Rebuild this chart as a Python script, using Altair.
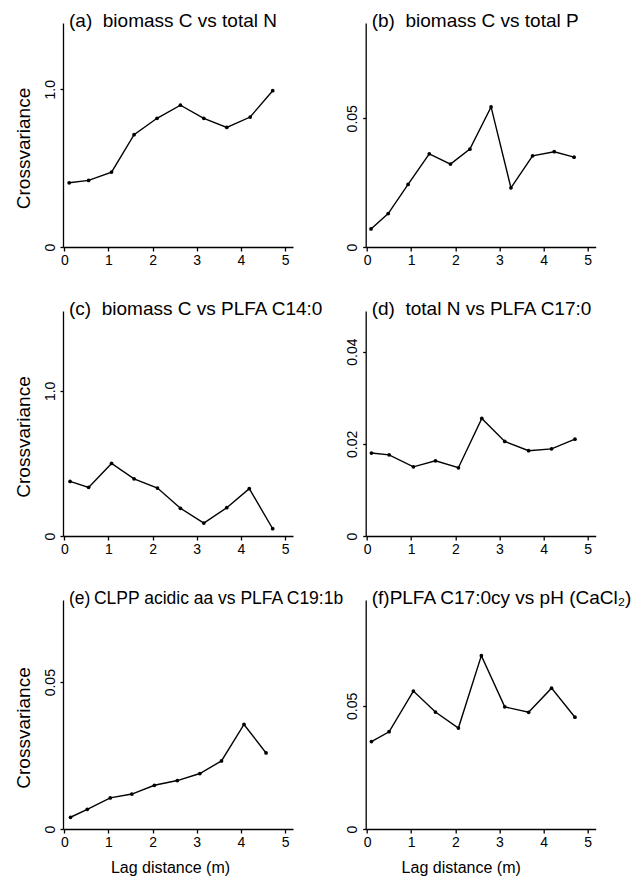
import altair as alt
import pandas as pd

FONT = "Liberation Sans"
SP2 = "\u00a0\u00a0"

titles = [
    "(a)" + SP2 + "biomass C vs total N",
    "(b)" + SP2 + "biomass C vs total P",
    "(c)" + SP2 + "biomass C vs PLFA C14:0",
    "(d)" + SP2 + "total N vs PLFA C17:0",
    "(e)\u2009CLPP acidic aa vs PLFA\u2009C19:1b",
    "(f)PLFA C17:0cy vs pH (CaCl\u2082)",
]
title_sizes = [19, 19, 19, 19, 17.5, 19]

lag_a = [0.11, 0.55, 1.07, 1.58, 2.10, 2.63, 3.16, 3.68, 4.21, 4.72]
val_a = [0.407, 0.422, 0.475, 0.712, 0.816, 0.899, 0.816, 0.758, 0.824, 0.991]

lag_b = [0.09, 0.48, 0.93, 1.41, 1.89, 2.33, 2.81, 3.26, 3.75, 4.24, 4.69]
val_b = [0.0070, 0.0130, 0.0243, 0.0362, 0.0322, 0.0380, 0.0544, 0.0230, 0.0354, 0.0370, 0.0349]

lag_c = [0.13, 0.55, 1.07, 1.58, 2.11, 2.63, 3.16, 3.68, 4.19, 4.72]
val_c = [0.376, 0.335, 0.500, 0.394, 0.330, 0.191, 0.089, 0.195, 0.326, 0.050]

lag_d = [0.10, 0.50, 1.05, 1.55, 2.07, 2.60, 3.12, 3.66, 4.18, 4.71]
val_d = [0.0180, 0.0176, 0.0150, 0.0163, 0.0148, 0.0255, 0.0205, 0.0185, 0.0189, 0.0210]

lag_e = [0.14, 0.52, 1.04, 1.53, 2.04, 2.56, 3.07, 3.56, 4.07, 4.57]
val_e = [0.0040, 0.0067, 0.0106, 0.0119, 0.0149, 0.0165, 0.0189, 0.0232, 0.0356, 0.0259]

lag_f = [0.10, 0.50, 1.05, 1.55, 2.07, 2.59, 3.12, 3.66, 4.18, 4.71]
val_f = [0.0355, 0.0395, 0.0560, 0.0475, 0.0410, 0.0704, 0.0496, 0.0474, 0.0572, 0.0454]

lags = [lag_a, lag_b, lag_c, lag_d, lag_e, lag_f]
vals = [val_a, val_b, val_c, val_d, val_e, val_f]

y_max = [1.42, 0.087, 1.55, 0.0488, 0.078, 0.093]
y_ticks = [[0, 1.0], [0, 0.05], [0, 1.0], [0, 0.02, 0.04], [0, 0.05], [0, 0.05]]
y_fmt = [".1f", ".2f", ".1f", ".2f", ".2f", ".2f"]
x_ticks = [0, 1, 2, 3, 4, 5]
x_domain = [-0.03, 5.18]

y_title = "Crossvariance"
x_title = "Lag distance (m)"

heights = [224, 224, 225, 225, 229, 229]
W = 230


def panel(i):
    left = i % 2 == 0
    bottom = i >= 4
    h = heights[i]
    df = pd.DataFrame({"lag": lags[i], "cv": vals[i]})

    xaxis = dict(values=x_ticks, format="d", tickSize=4, labelPadding=2)
    if bottom:
        xaxis.update(title=x_title, titlePadding=10, titleX=107 if left else 95)
    else:
        xaxis.update(title="")
    yaxis = dict(
        values=y_ticks[i],
        labelExpr="datum.value == 0 ? '0' : format(datum.value, '%s')" % y_fmt[i],
        labelAngle=270,
        labelAlign="center",
        labelBaseline="alphabetic",
        tickSize=3,
        labelPadding=6,
    )
    if left:
        yaxis.update(title=y_title, titlePadding=10, titleY=h / 2 + 13)
    else:
        yaxis.update(title="")

    x = alt.X("lag:Q", scale=alt.Scale(domain=x_domain, nice=False, zero=False),
              axis=alt.Axis(**xaxis))
    y = alt.Y("cv:Q", scale=alt.Scale(domain=[0, y_max[i]], nice=False),
              axis=alt.Axis(**yaxis))

    base = alt.Chart(df).encode(x=x, y=y)
    line = base.mark_line(color="black", strokeWidth=1.4)
    pts = base.mark_circle(color="black", size=14, opacity=1)
    ttl = alt.Chart(pd.DataFrame({"t": [titles[i]]})).mark_text(
        align="left", baseline="alphabetic", font=FONT, fontSize=title_sizes[i], color="black"
    ).encode(x=alt.value(6), y=alt.value(4), text="t:N")
    return alt.layer(line, pts, ttl).properties(width=W, height=h)


chart = alt.concat(
    *[panel(i) for i in range(6)],
    columns=2,
    spacing={"row": 64, "column": 72.7},
    bounds="flush",
).properties(
    padding={"left": 14, "top": 12, "right": 2, "bottom": 5}
).configure_view(stroke=None).configure_axis(
    grid=False,
    domainColor="black",
    domainWidth=1.3,
    tickColor="black",
    tickWidth=1.3,
    labelFont=FONT,
    labelFontSize=14,
    labelColor="black",
    titleFont=FONT,
    titleFontWeight="normal",
    titleColor="black",
).configure_axisY(titleFontSize=19).configure_axisX(titleFontSize=16)

chart.save("out.html", embed_options={"renderer": "svg", "actions": False})
